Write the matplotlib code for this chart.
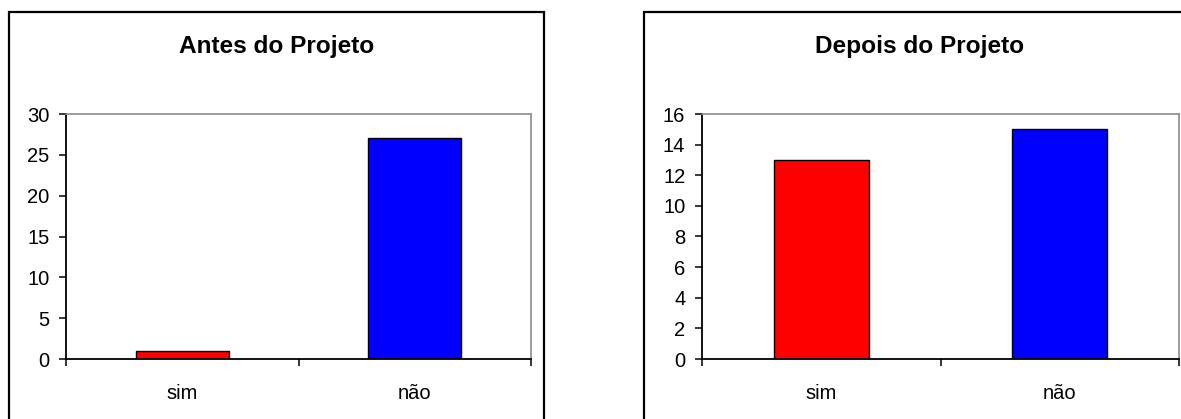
import numpy as np
from matplotlib import pyplot as plt
from matplotlib.patches import Rectangle

categorias = ['sim', 'não']
antes = [1, 27]
depois = [13, 15]
cores = ['#FF0000', '#0000FF']
titulos = ['Antes do Projeto', 'Depois do Projeto']
yticks_antes = [0, 5, 10, 15, 20, 25, 30]
yticks_depois = [0, 2, 4, 6, 8, 10, 12, 14, 16]

plt.rcParams['font.family'] = ['Liberation Sans', 'DejaVu Sans']

W, H = 1181, 419
fig = plt.figure(figsize=(W / 100, H / 100), dpi=100)

# frames around each chart (px coords)
def px(x, y):
    return x / W, 1 - y / H

fig.patches.append(Rectangle(px(9, 430), 535 / W, 418 / H, transform=fig.transFigure,
                             fill=False, edgecolor='black', linewidth=1.6))
fig.patches.append(Rectangle(px(644, 430), 600 / W, 418 / H, transform=fig.transFigure,
                             fill=False, edgecolor='black', linewidth=1.6))

def grafico(rect, valores, yticks, titulo, tx):
    ax = fig.add_axes(rect)
    x = np.arange(len(categorias))
    ax.bar(x, valores, width=0.4, color=cores, edgecolor='black', linewidth=1.0)
    ax.set_xlim(-0.5, 1.5)
    ax.set_ylim(yticks[0], yticks[-1])
    ax.set_yticks(yticks)
    ax.set_xticks(x)
    ax.set_xticklabels(categorias)
    ax.set_xticks([-0.5, 0.5, 1.5], minor=True)
    ax.tick_params(axis='x', which='major', length=0, pad=18, labelsize=14.5)
    ax.tick_params(axis='x', which='minor', length=5, width=1.1, direction='out')
    ax.tick_params(axis='y', length=5, width=1.1, pad=7, labelsize=14.5)
    for s in ['top', 'right']:
        ax.spines[s].set_color('#8c8c8c')
        ax.spines[s].set_linewidth(1.2)
    for s in ['left', 'bottom']:
        ax.spines[s].set_color('black')
        ax.spines[s].set_linewidth(1.3)
    fig.text(tx / W, 1 - 53.5 / H, titulo, ha='center', va='baseline',
             fontsize=17.6, fontweight='bold')
    return ax

grafico([66 / W, 1 - 359 / H, 465 / W, 245 / H], antes, yticks_antes, titulos[0], 276.5)
grafico([702 / W, 1 - 359 / H, 477 / W, 245 / H], depois, yticks_depois, titulos[1], 919.5)

plt.savefig('out.png', dpi=100)
